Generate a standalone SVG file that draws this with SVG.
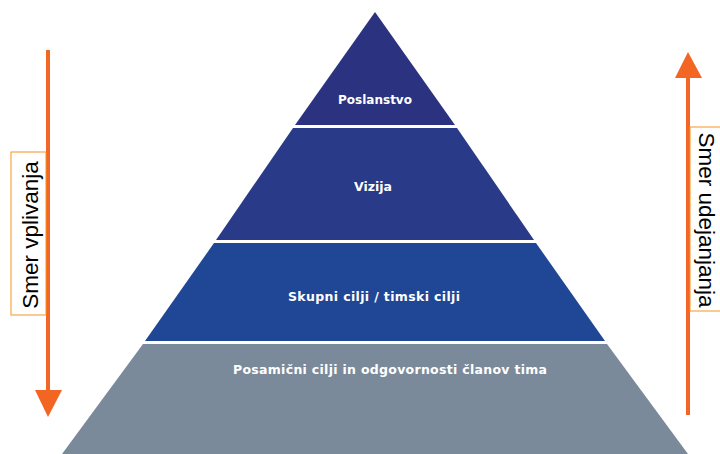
<svg xmlns="http://www.w3.org/2000/svg" width="720" height="454" viewBox="0 0 720 454">
<style>
.lvl text{fill:#ffffff;font-family:"DejaVu Sans",Verdana,sans-serif;font-weight:bold;font-size:12.5px;text-anchor:middle}
.lbl{fill:#ffffff;stroke:#f7941d;stroke-width:1}
.side{font-family:"Liberation Sans",Arial,sans-serif;font-size:22.5px;fill:#000;text-anchor:middle}
.arr{stroke:#f26522;stroke-width:4;fill:none}
.head{fill:#f26522}
</style>
<rect width="720" height="454" fill="#ffffff"/>
<g id="level-poslanstvo" class="lvl">
<polygon points="375,12 455,125 295,125" fill="#2b3381"/>
<text x="375" y="104" style="font-size:12px">Poslanstvo</text>
</g>
<g id="level-vizija" class="lvl">
<polygon points="293,128 457,128 534,240 216,240" fill="#293a89"/>
<text x="373" y="191">Vizija</text>
</g>
<g id="level-skupni" class="lvl">
<polygon points="214,243 536,243 605,341 145,341" fill="#1f4796"/>
<text x="374" y="301" textLength="172" lengthAdjust="spacing">Skupni cilji / timski cilji</text>
</g>
<g id="level-posamicni" class="lvl">
<polygon points="143,344 607,344 688,454 62,454" fill="#7b8a9a"/>
<text x="390" y="374" textLength="314" lengthAdjust="spacing">Posamični cilji in odgovornosti članov tima</text>
</g>
<g id="connectors">
<g id="arrow-down">
<line class="arr" x1="48" y1="50" x2="48" y2="392"/>
<polygon class="head" points="35,390 62,390 48,417"/>
</g>
<g id="arrow-up">
<line class="arr" x1="688" y1="75" x2="688" y2="415"/>
<polygon class="head" points="675,78 702,78 688,52"/>
</g>
</g>
<g id="label-left">
<rect class="lbl" x="11" y="152" width="35" height="163"/>
<text class="side" transform="translate(38,235) rotate(-90)">Smer vplivanja</text>
</g>
<g id="label-right">
<rect class="lbl" x="690" y="127" width="40" height="184"/>
<text class="side" transform="translate(699,220) rotate(90)">Smer udejanjanja</text>
</g>
</svg>
